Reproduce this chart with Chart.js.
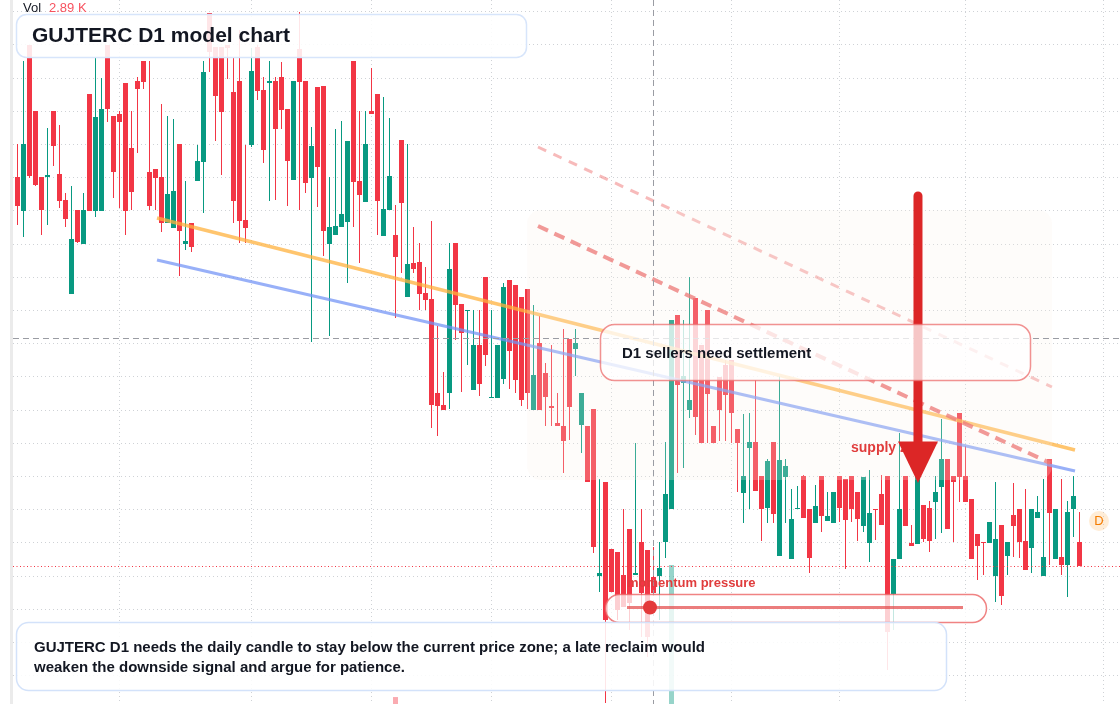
<!DOCTYPE html>
<html><head><meta charset="utf-8">
<script src="https://cdn.jsdelivr.net/npm/chart.js@4.4.1/dist/chart.umd.min.js"></script>
<style>html,body{margin:0;padding:0;background:#fff;overflow:hidden}#wrap{width:1120px;height:704px;position:relative}canvas{display:block}</style>
</head><body><div id="wrap"><canvas id="c" width="1120" height="704"></canvas></div>
<script>
// ---- data (daily candles, oldest -> newest) ----
const openP = [82.3,78.9,95.5,88.9,82.3,82.3,88.9,82.6,80.0,70.6,
79.0,75.6,90.6,78.9,78.9,95.5,88.4,88.6,91.7,85.2,
91.9,93.9,82.8,83.1,82.3,77.7,77.2,85.6,75.6,77.7,
81.9,83.8,98.7,95.3,95.3,95.5,90.8,91.9,78.0,85.5,
95.3,91.0,91.7,91.9,92.3,89.1,82.0,95.1,91.9,82.2,
91.3,91.4,75.6,76.5,77.3,77.8,93.9,81.9,79.8,88.9,
90.6,76.4,79.0,76.5,86.0,70.3,73.7,73.8,70.7,70.1,
60.7,59.5,60.7,75.7,69.6,68.9,61.0,65.5,72.3,60.2,
60.2,62.1,72.0,71.5,70.3,71.1,59.0,65.7,62.7,59.4,
57.7,57.4,66.1,65.1,57.5,57.4,59.1,42.4,51.8,45.1,
44.8,42.5,47.1,42.5,45.8,45.0,42.3,42.4,45.8,49.1,
68.5,61.7,59.0,70.2,65.5,69.0,57.4,62.3,63.5,64.0,
57.1,50.7,55.2,55.8,52.4,49.2,55.8,44.4,52.3,44.1,
49.1,52.4,49.1,47.7,52.4,47.9,47.7,52.4,52.1,52.4,
50.8,47.4,45.7,49.1,50.6,52.4,40.6,44.1,52.4,45.7,
45.6,49.5,49.2,49.8,51.3,54.1,52.4,58.7,52.4,50.1,
46.6,45.8,45.7,42.4,47.5,44.4,48.5,49.1,45.9,45.2,
48.2,42.4,54.1,44.1,44.3,43.5,49.1,45.8];
const highP = [85.6,93.9,95.5,88.9,82.3,87.2,88.9,87.5,80.7,81.4,
79.0,80.7,90.6,94.2,92.2,95.5,88.4,88.9,91.7,88.9,
92.3,93.9,93.9,83.1,89.6,88.4,88.1,85.6,81.9,77.7,
85.5,93.9,98.7,95.3,95.3,95.5,94.2,97.0,85.5,95.2,
95.5,92.3,93.9,92.3,93.8,89.1,91.9,98.8,91.9,87.3,
91.3,91.4,82.3,87.1,87.9,85.9,93.9,88.9,88.9,93.2,
90.6,90.3,88.2,79.5,86.0,85.6,77.3,75.7,73.3,77.9,
67.4,62.8,75.7,75.7,69.6,69.0,69.0,69.0,72.3,69.0,
65.5,71.7,72.0,71.5,70.3,71.1,69.5,68.4,63.7,65.5,
60.7,67.1,66.1,67.1,60.7,57.4,59.1,52.1,51.8,45.1,
44.8,49.1,47.1,55.7,49.1,45.0,45.3,45.8,55.8,68.0,
68.5,68.0,72.3,70.2,65.5,69.0,57.4,62.3,64.0,64.0,
57.1,58.6,58.7,62.0,52.4,54.1,55.8,62.4,54.1,51.1,
51.4,52.5,49.1,51.5,52.4,50.8,50.8,52.4,52.1,52.4,
50.8,52.3,53.0,49.1,52.5,52.4,44.1,56.7,52.4,47.5,
52.4,49.5,49.9,52.4,58.1,54.1,52.4,58.7,55.4,50.1,
46.6,45.8,47.8,51.8,47.5,45.8,51.7,49.1,51.1,49.1,
50.4,52.1,54.1,49.1,52.1,49.9,52.4,48.8];
const lowP = [77.5,76.3,82.2,81.4,76.5,77.5,83.4,79.2,77.3,70.6,
75.7,75.6,78.9,78.3,78.9,87.8,80.2,79.2,76.5,79.0,
84.7,91.1,79.0,79.0,76.8,77.7,77.2,72.4,75.0,74.8,
81.9,78.7,92.8,85.9,82.5,92.1,77.7,75.7,75.7,85.3,
90.0,83.7,79.9,80.0,87.1,79.4,82.0,79.0,80.7,65.8,
79.3,74.4,66.4,76.5,77.3,71.7,77.3,73.7,79.8,88.6,
76.5,76.4,79.0,68.2,72.7,70.3,72.7,69.0,69.0,57.2,
56.4,59.0,59.1,66.0,60.8,63.5,61.0,60.4,63.4,60.2,
60.2,61.6,61.1,60.7,59.4,59.1,59.0,59.0,57.4,57.4,
57.4,52.7,56.0,62.4,54.7,51.8,44.7,40.8,29.7,40.8,
38.0,39.3,37.0,42.5,36.3,34.3,40.7,38.0,44.2,49.1,
52.7,53.2,58.2,56.5,55.7,55.7,55.7,55.9,55.9,55.7,
50.8,47.7,49.1,50.9,45.9,47.7,47.7,44.4,47.7,44.1,
49.1,48.2,42.7,47.7,46.8,47.9,47.7,47.8,43.1,47.8,
45.9,46.8,43.8,46.0,47.5,33.0,37.0,44.1,47.4,45.4,
45.6,45.8,44.8,46.1,46.7,47.1,45.8,49.8,49.8,44.1,
42.0,42.5,45.7,39.8,39.5,42.5,44.3,44.2,43.0,42.7,
48.2,42.4,43.5,44.1,42.5,40.3,46.3,43.4];
const closeP = [79.4,85.6,82.4,81.5,79.0,82.5,85.4,79.9,78.1,76.1,
75.8,79.0,78.9,88.3,89.1,89.1,82.8,87.8,78.9,80.8,
91.1,91.8,79.4,82.2,77.7,80.6,80.9,76.9,75.9,75.3,
83.9,92.8,94.8,90.4,88.8,95.2,79.9,77.9,77.2,92.9,
90.9,85.0,91.9,87.1,89.0,83.9,91.9,91.8,81.7,85.4,
83.3,76.9,77.3,77.4,78.6,85.9,81.8,80.5,85.6,88.6,
79.9,79.1,82.4,74.3,79.7,73.6,73.1,70.6,70.0,59.5,
59.4,59.0,73.1,69.5,66.7,69.0,65.5,61.6,64.5,60.3,
65.5,71.3,64.9,62.0,60.0,60.7,62.5,59.0,60.3,59.2,
57.4,55.9,59.3,65.7,60.7,51.8,45.3,42.7,38.0,40.8,
39.0,39.3,39.7,42.7,40.7,36.3,40.7,43.2,50.6,68.0,
61.5,62.4,60.0,58.3,55.7,60.6,55.7,59.0,60.5,58.7,
55.7,52.4,55.8,50.9,49.1,53.9,48.6,54.0,53.4,48.1,
49.2,48.2,44.2,49.4,48.4,48.4,50.8,49.2,48.0,49.1,
48.1,52.3,48.7,49.0,47.5,36.8,44.1,49.1,47.4,45.4,
52.4,46.1,45.9,50.8,54.1,47.1,51.8,52.3,49.8,44.1,
45.4,45.7,47.8,46.1,40.4,45.8,47.4,45.8,43.0,49.1,
48.8,44.3,48.7,49.1,43.5,48.8,50.4,43.4];
// volume (K) : only the bars visible in the panel
const volIdx = [63, 109];
const volVal = [1.5, 30.0];
const lastVolLabel = '2.89 K';
// vertical grid (candle index of period starts)
const gridX = [17, 39, 59, 79, 99, 119, 137, 158, 181];
// trend lines [index, price]
const orangeLine = [[23.25, 78.2], [176.25, 55.0]];
const blueLine = [[23.25, 74.0], [176.25, 52.9]];
const redDashLine = [[86.75, 77.4], [172.1, 53.7]];
const pinkDashLine = [[86.75, 85.3], [172.4, 61.3]];
// annotation anchors
const supplyZone = {i0: 84.92, i1: 172.42, p0: 79.0, p1: 52.0};
const crossIdx = 105.92, crossPrice = 66.17;
const arrow = {i: 150.08, pTop: 80.4, pBase: 55.85, pTip: 51.7};

const RED = '#f23645', GREEN = '#089981';
const N = closeP.length;
const idx = Array.from({length: N}, (_, i) => i);
const colors = idx.map(i => closeP[i] >= openP[i] ? GREEN : RED);

function rr(ctx, x, y, w, h, r) {
  ctx.beginPath();
  ctx.moveTo(x + r, y); ctx.lineTo(x + w - r, y); ctx.arcTo(x + w, y, x + w, y + r, r);
  ctx.lineTo(x + w, y + h - r); ctx.arcTo(x + w, y + h, x + w - r, y + h, r);
  ctx.lineTo(x + r, y + h); ctx.arcTo(x, y + h, x, y + h - r, r);
  ctx.lineTo(x, y + r); ctx.arcTo(x, y, x + r, y, r); ctx.closePath();
}
function box(ctx, x, y, w, h, r, fill, stroke, lw) {
  rr(ctx, x + 0.5, y + 0.5, w, h, r);
  ctx.fillStyle = fill; ctx.fill();
  ctx.lineWidth = lw; ctx.strokeStyle = stroke; ctx.setLineDash([]); ctx.stroke();
}
const FONT = '"Liberation Sans", Arial, sans-serif';

const deco = {
  id: 'deco',
  beforeDraw(chart) {
    const ctx = chart.ctx;
    ctx.save();
    ctx.fillStyle = '#ffffff'; ctx.fillRect(0, 0, chart.width, chart.height);
    ctx.fillStyle = '#ebebeb'; ctx.fillRect(10, 0, 3, chart.height);
    ctx.restore();
  },
  afterDatasetsDraw(chart) {
    const ctx = chart.ctx, xs = chart.scales.x, ys = chart.scales.y;
    const X = v => xs.getPixelForValue(v), Y = v => ys.getPixelForValue(v);
    const ca = chart.chartArea;
    ctx.save();
    // supply zone shading
    const zx0 = X(supplyZone.i0), zx1 = X(supplyZone.i1), zy0 = Y(supplyZone.p0), zy1 = Y(supplyZone.p1);
    rr(ctx, zx0, zy0, zx1 - zx0, zy1 - zy0, 14);
    ctx.fillStyle = 'rgba(250,240,230,0.22)'; ctx.fill();
    // crosshair
    ctx.strokeStyle = '#9a9ca3'; ctx.lineWidth = 1; ctx.setLineDash([6, 4]);
    const cx = Math.round(X(crossIdx)) + 0.5, cy = Math.round(Y(crossPrice)) + 0.5;
    ctx.beginPath(); ctx.moveTo(cx, 0); ctx.lineTo(cx, chart.height); ctx.stroke();
    ctx.beginPath(); ctx.moveTo(ca.left, cy); ctx.lineTo(ca.right, cy); ctx.stroke();
    // last price line
    const ly = Math.round(Y(closeP[N - 1])) + 0.5;
    ctx.strokeStyle = RED; ctx.setLineDash([1, 2.5]);
    ctx.beginPath(); ctx.moveTo(ca.left, ly); ctx.lineTo(ca.right, ly); ctx.stroke();
    ctx.setLineDash([]);
    // supply zone label
    ctx.font = 'bold 14px ' + FONT; ctx.fillStyle = '#e03c3c'; ctx.textBaseline = 'middle';
    ctx.fillText('supply zone', 851, 448);
    // big arrow
    const ax = X(arrow.i), aTop = Y(arrow.pTop), aBase = Y(arrow.pBase), aTip = Y(arrow.pTip);
    ctx.strokeStyle = '#dc2626'; ctx.lineWidth = 9; ctx.lineCap = 'round';
    ctx.beginPath(); ctx.moveTo(ax, aTop); ctx.lineTo(ax, aBase + 2); ctx.stroke();
    ctx.lineCap = 'butt';
    ctx.fillStyle = '#dc2626';
    ctx.beginPath(); ctx.moveTo(ax - 20, aBase); ctx.lineTo(ax + 20, aBase); ctx.lineTo(ax, aTip); ctx.closePath(); ctx.fill();
    // settlement box
    box(ctx, 600, 324, 430, 56, 14, 'rgba(255,255,255,0.74)', 'rgba(236,110,110,0.75)', 1.5);
    ctx.font = 'bold 15px ' + FONT; ctx.fillStyle = '#131722';
    ctx.fillText('D1 sellers need settlement', 622, 354);
    // momentum
    ctx.font = 'bold 13px ' + FONT; ctx.fillStyle = '#e03c3c';
    ctx.fillText('momentum pressure', 627, 583);
    box(ctx, 605, 594, 381, 28, 14, 'rgba(255,255,255,0.76)', 'rgba(236,100,100,0.8)', 1.5);
    ctx.strokeStyle = 'rgba(226,70,70,0.7)'; ctx.lineWidth = 3;
    ctx.beginPath(); ctx.moveTo(627, 607.5); ctx.lineTo(963, 607.5); ctx.stroke();
    ctx.fillStyle = '#e33a3a'; ctx.beginPath(); ctx.arc(650, 607.5, 7, 0, Math.PI * 2); ctx.fill();
    // bottom note
    box(ctx, 16, 622, 930, 68, 12, 'rgba(255,255,255,0.88)', '#d3e2fa', 1.5);
    ctx.font = 'bold 15px ' + FONT; ctx.fillStyle = '#131722';
    ctx.fillText('GUJTERC D1 needs the daily candle to stay below the current price zone; a late reclaim would', 34, 648);
    ctx.fillText('weaken the downside signal and argue for patience.', 34, 668);
    // title
    box(ctx, 16, 14, 510, 43, 10, 'rgba(255,255,255,0.88)', '#d7e5fb', 1.5);
    ctx.font = 'bold 21px ' + FONT; ctx.fillStyle = '#131722';
    ctx.fillText('GUJTERC D1 model chart', 32, 36.5);
    // volume legend
    ctx.font = '13px ' + FONT; ctx.fillStyle = '#131722';
    ctx.fillText('Vol', 23, 8.5);
    ctx.fillStyle = '#f7525f';
    ctx.fillText(lastVolLabel, 49, 8.5);
    // D marker
    ctx.fillStyle = 'rgba(255,190,110,0.28)';
    ctx.beginPath(); ctx.arc(1099, 521, 10, 0, Math.PI * 2); ctx.fill();
    ctx.font = '13px ' + FONT; ctx.fillStyle = '#f57c00'; ctx.textAlign = 'center';
    ctx.fillText('D', 1099, 521.5);
    ctx.restore();
  }
};

const gridTop = 98.83, gridStep = 3.32, gridCount = 21;

new Chart(document.getElementById('c'), {
  type: 'bar',
  data: {
    datasets: [
      { type: 'line', data: orangeLine.map(p => ({x: p[0], y: p[1]})), borderColor: 'rgba(255,178,62,0.75)', borderWidth: 3.5, pointRadius: 0, order: 1 },
      { type: 'line', data: blueLine.map(p => ({x: p[0], y: p[1]})), borderColor: 'rgba(112,146,245,0.72)', borderWidth: 3, pointRadius: 0, order: 1 },
      { type: 'line', data: redDashLine.map(p => ({x: p[0], y: p[1]})), borderColor: 'rgba(234,92,92,0.78)', borderWidth: 4, borderDash: [11, 7], pointRadius: 0, order: 0 },
      { type: 'line', data: pinkDashLine.map(p => ({x: p[0], y: p[1]})), borderColor: 'rgba(240,130,130,0.55)', borderWidth: 3, borderDash: [9, 8], pointRadius: 0, order: 0 },
      { label: 'body', data: idx.map(i => ({x: i, y: [openP[i], closeP[i]]})), backgroundColor: colors, grouped: false, maxBarThickness: 5, barPercentage: 1, categoryPercentage: 1, minBarLength: 1, inflateAmount: 0, borderWidth: 0, order: 2 },
      { label: 'wick', data: idx.map(i => ({x: i, y: [lowP[i], highP[i]]})), backgroundColor: colors, grouped: false, maxBarThickness: 1, barPercentage: 1, categoryPercentage: 1, inflateAmount: 0, borderWidth: 0, order: 3 },
      { label: 'vol', yAxisID: 'yv', data: volIdx.map((v, k) => ({x: v, y: volVal[k]})), backgroundColor: volIdx.map(v => closeP[v] >= openP[v] ? 'rgba(8,153,129,0.42)' : 'rgba(242,54,69,0.42)'), grouped: false, maxBarThickness: 5, barPercentage: 1, categoryPercentage: 1, inflateAmount: 0, borderWidth: 0, order: 4 }
    ]
  },
  options: {
    responsive: false, animation: false, devicePixelRatio: 1, events: [],
    layout: { padding: { left: 13, right: 0, top: 0, bottom: 0 } },
    plugins: { legend: { display: false }, tooltip: { enabled: false } },
    scales: {
      x: { type: 'linear', min: -0.75, max: 183.75, offset: false,
        grid: { offset: false, drawTicks: false, color: '#cfd2d6', lineWidth: 1 },
        border: { display: false, dash: [1, 3] },
        ticks: { display: false },
        afterBuildTicks: s => { s.ticks = gridX.map(v => ({value: v})); } },
      y: { type: 'linear', min: 29.6, max: 100, beginAtZero: false,
        grid: { drawTicks: false, color: '#cfd2d6', lineWidth: 1 },
        border: { display: false, dash: [1, 3] },
        ticks: { display: false },
        afterBuildTicks: s => { s.ticks = Array.from({length: gridCount}, (_, k) => ({value: gridTop - gridStep * k})); } },
      yv: { type: 'linear', display: false, min: 0, max: 152 }
    }
  },
  plugins: [deco]
});
</script></body></html>
